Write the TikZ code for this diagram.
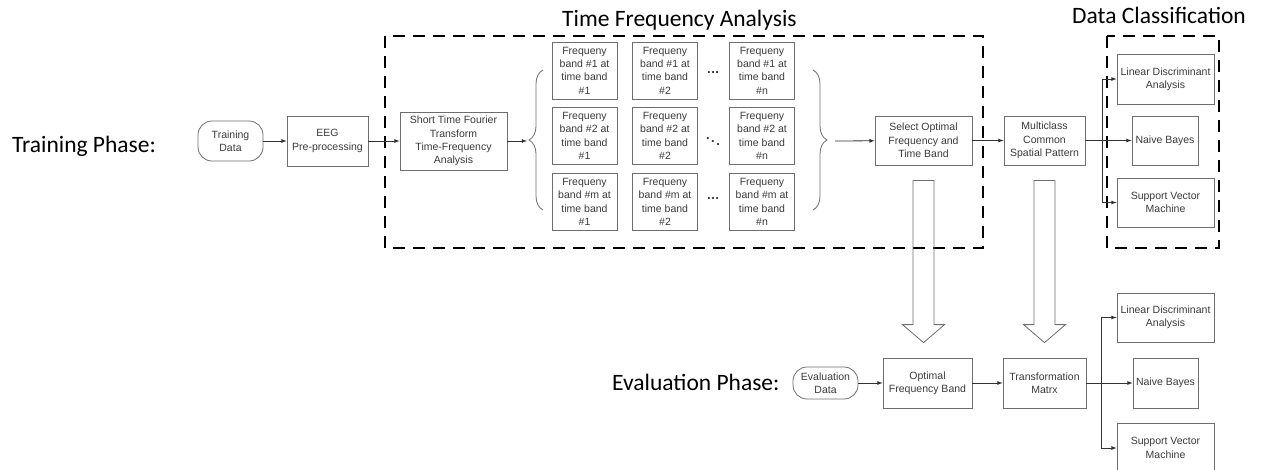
\documentclass[tikz,border=0pt]{standalone}
\usepackage{fontspec}
\setmainfont{Liberation Sans}
\newfontfamily\calibri{Carlito}
\usetikzlibrary{calc,decorations.pathreplacing}
\definecolor{boxgray}{HTML}{6E6E6E}
\definecolor{linegray}{HTML}{333333}
\definecolor{txtgray}{HTML}{3A3A3A}

\begin{document}
\begin{tikzpicture}[x=1pt, y=-1pt,
	box/.style={draw=boxgray, line width=0.8pt, inner sep=1pt, align=center, text=txtgray, font=\fontsize{10.5}{13.3}\selectfont},
	term/.style={box, rounded corners=14pt},
	flow/.style={draw=linegray, line width=0.8pt, -latex},
	phase/.style={font=\calibri\fontsize{23.5}{28}\selectfont, anchor=base west, inner sep=0pt},
	dashbox/.style={line width=2.6pt, dash pattern=on 12pt off 8pt},
	hollow/.style={draw=boxgray, line width=0.8pt, line join=miter},
	gap/.style={text=linegray, inner sep=0pt, font=\fontsize{13}{13}\selectfont\bfseries\boldmath},
	curly/.style={draw=boxgray, line width=0.8pt, decorate, decoration={brace, amplitude=14pt}}]
	\useasboundingbox (0,0) rectangle (1263,469);
	% Titles:
	\node[phase] (trainlbl) at (12,152) {Training Phase:};
	\node[phase] (evallbl) at (612,390) {Evaluation Phase:};
	\node[phase] (tfalbl) at (562,26) {Time Frequency Analysis};
	\node[phase] (dclbl) at (1072,23) {Data Classification};
	% Dashed frames:
	\draw[dashbox] (385,36) rectangle (983,248);
	\draw[dashbox] (1107,36) rectangle (1219,248);
	% Training row:
	\node[term, minimum width=65pt, minimum height=40pt] (td) at (230.5,141) {Training\\Data};
	\node[box, minimum width=81pt, minimum height=50pt] (eeg) at (327.5,141) {EEG\\Pre-processing};
	\node[box, minimum width=107pt, minimum height=58pt] (stft) at (453.5,141) {Short Time Fourier\\Transform\\Time-Frequency\\Analysis};
	\foreach \col/\x/\t in {1/584.5/1, 2/665/2, 3/762/n}
		\foreach \row/\y/\f in {1/70.5/1, 2/136/2, 3/202/m}
			\node[box, minimum width=65pt, minimum height=57pt] (f\row\col) at (\x,\y) {Frequeny\\band \#\f{} at\\time band\\\#\t};
	\node[gap] (dots1) at (713,73) {\ldots};
	\node[gap] (dots2) at (713,139) {$\ddots$};
	\node[gap] (dots3) at (713,199) {\ldots};
	\draw[curly] (543,210) -- (543,70);
	\draw[curly] (813,70) -- (813,210);
	\coordinate (lb) at (527,141);
	\coordinate (rb) at (835,141);
	\node[box, minimum width=97pt, minimum height=49pt] (sel) at (923.5,140.5) {Select Optimal\\Frequency and\\Time Band};
	\node[box, minimum width=81pt, minimum height=49pt] (csp) at (1044.5,140.5) {Multiclass\\Common\\Spatial Pattern};
	\node[box, minimum width=97pt, minimum height=50pt] (lda1) at (1165.5,79) {Linear Discriminant\\Analysis};
	\node[box, minimum width=66pt, minimum height=49pt] (nb1) at (1165,140.5) {Naive Bayes};
	\node[box, minimum width=97pt, minimum height=49pt] (svm1) at (1165.5,202.5) {Support Vector\\Machine};
	\coordinate (b1) at (1102,140.5);
	\draw[flow] (td) -- (eeg);
	\draw[flow] (eeg) -- (stft);
	\draw[flow] (stft) -- (lb);
	\draw[flow] (rb) -- (sel);
	\draw[flow] (sel) -- (csp);
	\draw[flow] (csp) -- (nb1);
	\draw[flow] (b1) |- (lda1);
	\draw[flow] (b1) |- (svm1);
	% Evaluation row:
	\node[term, minimum width=65pt, minimum height=32pt] (ed) at (825.5,383) {Evaluation\\Data};
	\node[box, minimum width=89pt, minimum height=50pt] (ofb) at (927.5,383) {Optimal\\Frequency Band};
	\node[box, minimum width=83pt, minimum height=50pt] (tm) at (1044.5,383) {Transformation\\Matrx};
	\node[box, minimum width=97pt, minimum height=49pt] (lda2) at (1165.5,317.5) {Linear Discriminant\\Analysis};
	\node[box, minimum width=65pt, minimum height=50pt] (nb2) at (1165.5,383) {Naive Bayes};
	\node[box, minimum width=97pt, minimum height=49pt] (svm2) at (1165.5,448) {Support Vector\\Machine};
	\coordinate (b2) at (1101,383);
	\draw[flow] (ed) -- (ofb);
	\draw[flow] (ofb) -- (tm);
	\draw[flow] (tm) -- (nb2);
	\draw[flow] (b2) |- (lda2);
	\draw[flow] (b2) |- (svm2);
	% Hollow arrows:
	\coordinate (t1) at (sel.south |- ofb.north);
	\coordinate (t2) at (csp.south |- tm.north);
	\draw[hollow] ($(sel.south)+(-10.5,15)$) -- ($(sel.south)+(10.5,15)$) -- ($(t1)+(10.5,-33)$) -- ($(t1)+(21,-33)$)
		-- ($(t1)+(0,-15)$) -- ($(t1)+(-21,-33)$) -- ($(t1)+(-10.5,-33)$) -- cycle;
	\draw[hollow] ($(csp.south)+(-10.5,15)$) -- ($(csp.south)+(10.5,15)$) -- ($(t2)+(10.5,-33)$) -- ($(t2)+(21,-33)$)
		-- ($(t2)+(0,-15)$) -- ($(t2)+(-21,-33)$) -- ($(t2)+(-10.5,-33)$) -- cycle;
\end{tikzpicture}
\end{document}
